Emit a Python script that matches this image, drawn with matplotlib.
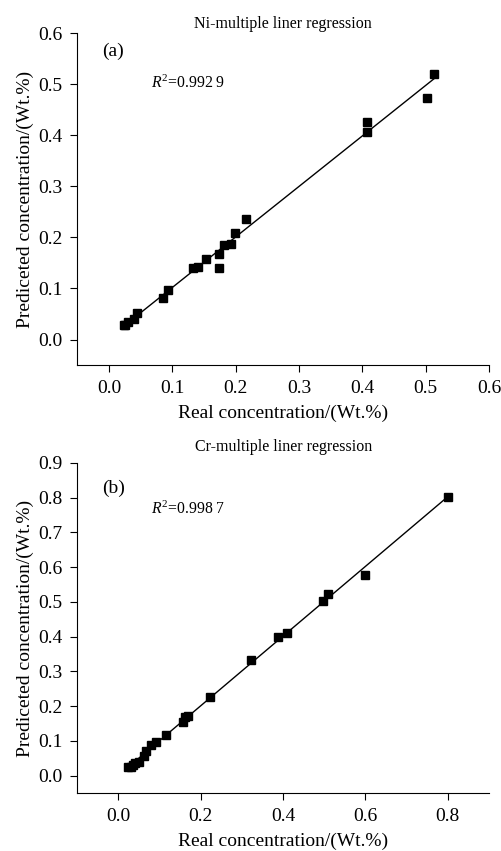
import numpy as np
import matplotlib
matplotlib.use("Agg")
import matplotlib.pyplot as plt

plt.rcParams['font.family'] = ['Liberation Serif', 'DejaVu Serif']
plt.rcParams['mathtext.fontset'] = 'custom'
plt.rcParams['mathtext.it'] = 'Liberation Serif:italic'
plt.rcParams['mathtext.rm'] = 'Liberation Serif'

# (a) Ni
ni_real = [0.513, 0.502, 0.408, 0.407, 0.217, 0.199, 0.193, 0.182, 0.174, 0.174,
           0.153, 0.141, 0.132, 0.093, 0.085, 0.045, 0.040, 0.030, 0.026, 0.024]
ni_pred = [0.520, 0.474, 0.427, 0.407, 0.237, 0.209, 0.188, 0.185, 0.167, 0.140,
           0.158, 0.143, 0.140, 0.098, 0.082, 0.052, 0.041, 0.034, 0.029, 0.028]

# (b) Cr
cr_real = [0.800, 0.600, 0.510, 0.498, 0.409, 0.387, 0.321, 0.223, 0.170, 0.162,
           0.156, 0.116, 0.092, 0.079, 0.066, 0.062, 0.051, 0.041, 0.035, 0.030, 0.024]
cr_pred = [0.802, 0.578, 0.524, 0.502, 0.410, 0.399, 0.334, 0.228, 0.173, 0.169,
           0.156, 0.117, 0.096, 0.089, 0.072, 0.056, 0.041, 0.037, 0.032, 0.026, 0.024]

panels = [
    dict(x=ni_real, y=ni_pred, title="Ni-multiple liner regression", tag="(a)",
         r2="$R^2$=0.992 9", xlim=(-0.05, 0.6), ylim=(-0.05, 0.6),
         xt=np.arange(0, 0.61, 0.1), yt=np.arange(0, 0.61, 0.1),
         pos=[0.154, 0.571, 0.820, 0.390], tagy=0.97, r2y=0.85, tpad=3.5),
    dict(x=cr_real, y=cr_pred, title="Cr-multiple liner regression", tag="(b)",
         r2="$R^2$=0.998 7", xlim=(-0.1, 0.9), ylim=(-0.05, 0.9),
         xt=np.arange(0, 0.81, 0.2), yt=np.arange(0, 0.91, 0.1),
         pos=[0.154, 0.068, 0.820, 0.388], tagy=0.948, r2y=0.858, tpad=8.5),
]

fig = plt.figure(figsize=(5.02, 8.51), dpi=100)

for p in panels:
    ax = fig.add_axes(p['pos'])
    x = np.array(p['x'])
    y = np.array(p['y'])
    k, b = np.polyfit(x, y, 1)
    xx = np.array([x.min(), x.max()])
    ax.plot(xx, k * xx + b, color='black', lw=1)
    ax.plot(x, y, 's', color='black', markersize=6)
    ax.set_xlim(p['xlim'])
    ax.set_ylim(p['ylim'])
    ax.set_xticks(p['xt'])
    ax.set_yticks(p['yt'])
    ax.set_xticklabels(["%.1f" % v for v in p['xt']])
    ax.set_yticklabels(["%.1f" % v for v in p['yt']])
    ax.spines['top'].set_visible(False)
    ax.spines['right'].set_visible(False)
    ax.tick_params(direction='out', length=5, pad=5.5, labelsize=14)
    ax.set_xlabel("Real concentration/(Wt.%)", fontsize=14, labelpad=5.5)
    ax.set_ylabel("Prediceted concentration/(Wt.%)", fontsize=14, labelpad=3)
    ax.set_title(p['title'], fontsize=11.5, pad=p['tpad'])
    ax.text(0.06, p['tagy'], p['tag'], transform=ax.transAxes, fontsize=14, va='top')
    ax.text(0.18, p['r2y'], p['r2'], transform=ax.transAxes, fontsize=11.3, va='center')

fig.savefig("out.png", dpi=100)
